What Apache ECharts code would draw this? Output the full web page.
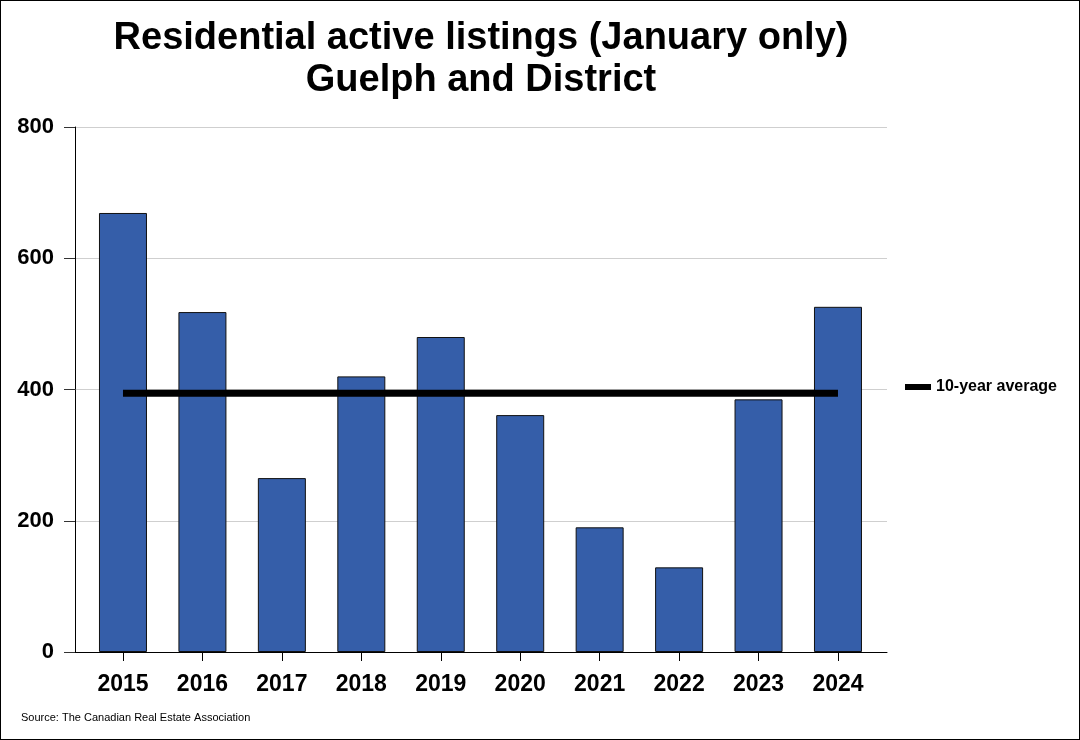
<!DOCTYPE html>
<html>
<head>
<meta charset="utf-8">
<script src="https://cdn.jsdelivr.net/npm/echarts@6/dist/echarts.min.js"></script>
<style>
html,body{margin:0;padding:0;background:#fff;}
#wrap{position:relative;width:1080px;height:740px;}
#c{width:1080px;height:740px;}
#frame{position:absolute;left:0;top:0;width:1080px;height:740px;box-sizing:border-box;border:1px solid #000;pointer-events:none;}
</style>
</head>
<body>
<div id="wrap"><div id="c"></div><div id="frame"></div></div>
<script>
const years = [2015, 2016, 2017, 2018, 2019, 2020, 2021, 2022, 2023, 2024];
const listings = [669, 518, 265, 420, 480, 361, 190, 129, 385, 526];
const avgValue = 394.3;
const yTicks = [0, 200, 400, 600, 800];

const chart = echarts.init(document.getElementById('c'));
const FONT = '"Liberation Sans", Arial, sans-serif';

chart.setOption({
  animation: false,
  backgroundColor: '#fff',
  grid: { left: 75, right: 193, top: 127, bottom: 88 },
  xAxis: {
    type: 'value',
    min: 2014.396,
    max: 2024.617,
    minInterval: 1,
    maxInterval: 1,
    splitLine: { show: false },
    axisLine: { show: true, onZero: false, lineStyle: { color: '#000', width: 1 } },
    axisTick: { show: true, length: 9, lineStyle: { color: '#000' } },
    axisLabel: { fontFamily: FONT, fontWeight: 'bold', fontSize: 23, color: '#000', margin: 21,
      formatter: v => String(Math.round(v)), showMinLabel: false, showMaxLabel: false }
  },
  yAxis: {
    type: 'value',
    min: yTicks[0],
    max: yTicks[yTicks.length - 1],
    interval: 200,
    axisLine: { show: true, lineStyle: { color: '#000', width: 1 } },
    axisTick: { show: true, length: 11, lineStyle: { color: '#333' } },
    axisLabel: { fontFamily: FONT, fontWeight: 'bold', fontSize: 22, color: '#000', margin: 21 },
    splitLine: { show: true, lineStyle: { color: '#cfcfcf', width: 1 } }
  },
  legend: {
    left: 900, top: 374,
    orient: 'vertical',
    icon: 'rect',
    itemWidth: 26, itemHeight: 6, itemGap: 8,
    textStyle: { fontFamily: FONT, fontWeight: 'bold', fontSize: 16, color: '#000' },
    data: ['10-year average']
  },
  series: [
    {
      name: 'Listings',
      type: 'bar',
      barWidth: 48,
      data: years.map((y, i) => [y, listings[i]]),
      itemStyle: { color: '#355EA9', borderColor: '#111', borderWidth: 1 }
    },
    {
      name: '10-year average',
      type: 'line',
      data: [[years[0], avgValue], [years[years.length - 1], avgValue]],
      symbol: 'none',
      lineStyle: { color: '#000', width: 7 },
      itemStyle: { color: '#000' },
      z: 5
    }
  ],
  graphic: [
    { type: 'text', x: 481, y: 39, style: { text: 'Residential active listings (January only)', font: 'bold 38px ' + FONT,
      fill: '#000', textAlign: 'center', textVerticalAlign: 'middle' } },
    { type: 'text', x: 481, y: 81, style: { text: 'Guelph and District', font: 'bold 38px ' + FONT,
      fill: '#000', textAlign: 'center', textVerticalAlign: 'middle' } },
    { type: 'text', x: 21, y: 718, style: { text: 'Source: The Canadian Real Estate Association', font: '11px ' + FONT,
      fill: '#000', textAlign: 'left', textVerticalAlign: 'middle' } }
  ]
});
</script>
</body>
</html>
